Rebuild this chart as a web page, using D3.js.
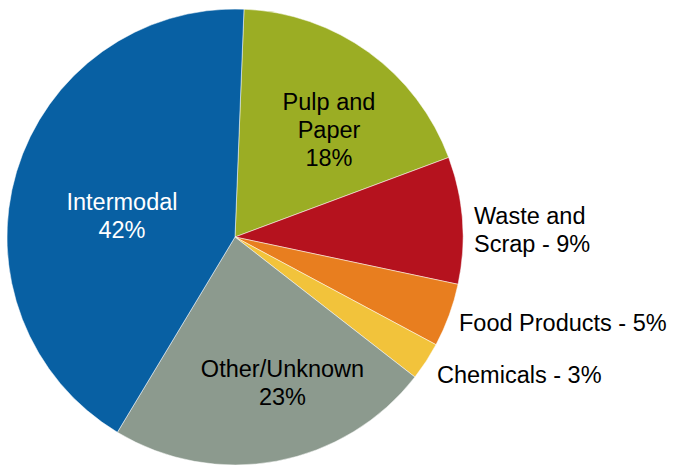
<!DOCTYPE html>
<html>
<head>
<meta charset="utf-8">
<script src="https://cdn.jsdelivr.net/npm/d3@7"></script>
<style>
  body { margin: 0; background: #fff; }
  text { font-family: "Liberation Sans", Arial, sans-serif; font-size: 23.5px; }
</style>
</head>
<body>
<script>
// shares of traffic, clockwise from the top
let categories = ['Pulp and Paper', 'Waste and Scrap', 'Food Products', 'Chemicals', 'Other/Unknown', 'Intermodal'];
let shares = [18.7, 9.0, 4.5, 2.7, 23.1, 42.0];
let colors = ['#9bad24', '#b5121e', '#e87e1f', '#f2c33b', '#8c9a8e', '#0860a3'];
// label lines per slice
let labelLines = [['Pulp and', 'Paper', '18%'], ['Waste and', 'Scrap - 9%'], ['Food Products - 5%'], ['Chemicals - 3%'], ['Other/Unknown', '23%'], ['Intermodal', '42%']];

let svgWidth = 673;
let svgHeight = 465;
let cx = 235, cy = 237, radius = 228;

let svg = d3.select('body')
  .append('svg')
  .attr('width', svgWidth)
  .attr('height', svgHeight);

let g = svg.append('g')
  .attr('transform', 'translate(' + cx + ',' + cy + ')');

let startOffset = 2.26 * Math.PI / 180;

let pie = d3.pie()
  .sort(null)
  .value(d => d)
  .startAngle(startOffset)
  .endAngle(startOffset + 2 * Math.PI);

let arc = d3.arc().innerRadius(0).outerRadius(radius);

let arcs = pie(shares);

g.selectAll('path')
  .data(arcs)
  .enter()
  .append('path')
    .attr('d', arc)
    .attr('fill', (d, i) => colors[i])
    .attr('stroke', '#fff')
    .attr('stroke-width', 0.5);

// label placement relative to pie centre (first baseline)
let labelPlace = [
  { dx: 94, dy: -127, anchor: 'middle', fill: '#000' },
  { dx: 239, dy: -13, anchor: 'start', fill: '#000' },
  { dx: 224, dy: 94, anchor: 'start', fill: '#000' },
  { dx: 202, dy: 146, anchor: 'start', fill: '#000' },
  { dx: 47.5, dy: 140, anchor: 'middle', fill: '#000' },
  { dx: -113, dy: -27, anchor: 'middle', fill: '#fff' }
];

let lineHeight = 27.8;

arcs.forEach((d, i) => {
  let p = labelPlace[i];
  let t = g.append('text')
    .attr('text-anchor', p.anchor)
    .attr('fill', p.fill);
  labelLines[i].forEach((s, j) => {
    t.append('tspan')
      .attr('x', p.dx)
      .attr('y', p.dy + j * lineHeight)
      .text(s);
  });
});
</script>
</body>
</html>
